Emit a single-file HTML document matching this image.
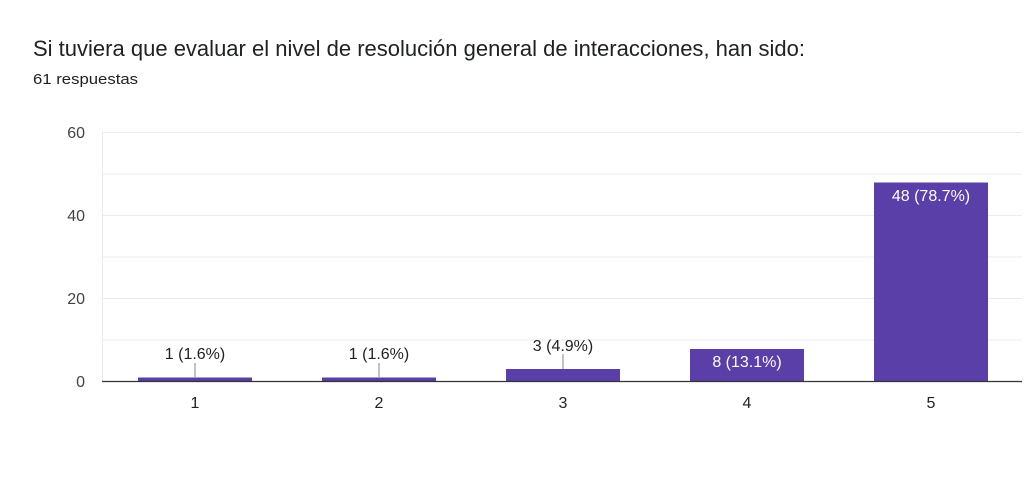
<!DOCTYPE html>
<html><head><meta charset="utf-8"><style>
body{margin:0;background:#fff;width:1024px;height:486px;overflow:hidden;font-family:"Liberation Sans",Arial,sans-serif}
</style></head><body>
<svg width="1024" height="486" xmlns="http://www.w3.org/2000/svg" font-family="Liberation Sans, Arial, sans-serif">
<text x="33" y="56" font-size="22" fill="#202124" textLength="772" lengthAdjust="spacingAndGlyphs">Si tuviera que evaluar el nivel de resolución general de interacciones, han sido:</text>
<text x="33" y="84" font-size="15" fill="#202124" textLength="105" lengthAdjust="spacingAndGlyphs">61 respuestas</text>
<g stroke="#ebebeb" stroke-width="1">
<line x1="102" x2="1022" y1="132.5" y2="132.5"/>
<line x1="102" x2="1022" y1="174" y2="174"/>
<line x1="102" x2="1022" y1="215.5" y2="215.5"/>
<line x1="102" x2="1022" y1="257" y2="257"/>
<line x1="102" x2="1022" y1="298.5" y2="298.5"/>
<line x1="102" x2="1022" y1="340" y2="340"/>
<line x1="102.5" x2="102.5" y1="132" y2="381"/>
</g>
<g font-size="16" fill="#444" text-anchor="end">
<text x="85" y="138">60</text>
<text x="85" y="221">40</text>
<text x="85" y="304">20</text>
<text x="85" y="387">0</text>
</g>
<g fill="#5a3fa9">
<rect x="138" y="377.5" width="114" height="4"/>
<rect x="322" y="377.5" width="114" height="4"/>
<rect x="506" y="369" width="114" height="12.5"/>
<rect x="690" y="349" width="114" height="32.5"/>
<rect x="874" y="182.5" width="114" height="199"/>
</g>
<line x1="102" x2="1022" y1="381.5" y2="381.5" stroke="#333" stroke-width="1.2"/>
<g stroke="#888" stroke-width="1">
<line x1="195" x2="195" y1="363" y2="377"/>
<line x1="379" x2="379" y1="363" y2="377"/>
<line x1="563" x2="563" y1="354" y2="369"/>
</g>
<g font-size="16" text-anchor="middle" fill="#222">
<text x="195" y="359">1 (1.6%)</text>
<text x="379" y="359">1 (1.6%)</text>
<text x="563" y="351">3 (4.9%)</text>
<text x="747" y="367" fill="#fff">8 (13.1%)</text>
<text x="931" y="201" fill="#fff">48 (78.7%)</text>
</g>
<g font-size="16" text-anchor="middle" fill="#222">
<text x="195" y="408">1</text>
<text x="379" y="408">2</text>
<text x="563" y="408">3</text>
<text x="747" y="408">4</text>
<text x="931" y="408">5</text>
</g>
</svg>
</body></html>
